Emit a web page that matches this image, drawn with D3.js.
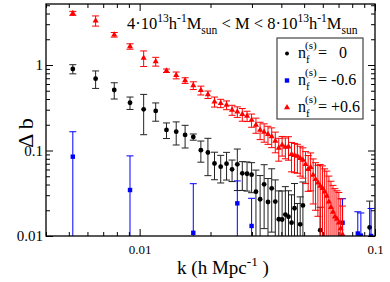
<!DOCTYPE html>
<html>
<head>
<meta charset="utf-8">
<script src="https://cdn.jsdelivr.net/npm/d3@7"></script>
<style>
body { margin: 0; background: #fff; }
svg text { font-family: "Liberation Serif", "Times New Roman", serif; fill: #000; white-space: pre; }
</style>
</head>
<body>
<svg id="chart" width="390" height="282"></svg>
<script>
// n_f = +0.6 (red triangles)
const redK = [0.0052, 0.0065, 0.0078, 0.0091, 0.0104, 0.0117, 0.0130, 0.0143, 0.0156, 0.0169,
    0.0182, 0.0195, 0.0208, 0.0221, 0.0234, 0.0247, 0.0260, 0.0273, 0.0286, 0.0299,
    0.0312, 0.0325, 0.0338, 0.0351, 0.0364, 0.0377, 0.0390, 0.0403, 0.0416, 0.0429,
    0.0442, 0.0455, 0.0468, 0.0481, 0.0494, 0.0507, 0.0520, 0.0533, 0.0546, 0.0559,
    0.0572, 0.0585, 0.0598, 0.0611, 0.0624, 0.0637, 0.0650, 0.0663, 0.0676, 0.0689,
    0.0702, 0.0715, 0.0728];
const redVals = [4.02, 3.30, 2.26, 1.65, 1.21, 1.10, 0.857, 0.758, 0.659, 0.576,
    0.506, 0.451, 0.372, 0.357, 0.340, 0.298, 0.284, 0.265, 0.253, 0.227,
    0.199, 0.174, 0.165, 0.155, 0.146, 0.129, 0.107, 0.116, 0.110, 0.111,
    0.0903, 0.088, 0.0862, 0.0811, 0.0775, 0.069, 0.0603, 0.0637, 0.0517, 0.046,
    0.042, 0.0384, 0.0361, 0.033, 0.0294, 0.0252, 0.0217, 0.0191, 0.0168, 0.0158,
    0.0143, 0.0122, 0.0104];
const redErr = [0.22, 0.45, 0.14, 0.12, 0.25, 0.13, 0.04, 0.07, 0.05, 0.06,
    0.06, 0.045, 0.05, 0.04, 0.04, 0.04, 0.04, 0.045, 0.035, 0.04,
    0.04, 0.04, 0.04, 0.037, 0.038, 0.035, 0.032, 0.03, 0.03, 0.034,
    0.034, 0.033, 0.032, 0.031, 0.03, 0.028, 0.027, 0.03, 0.028, 0.026,
    0.025, 0.03, 0.03, 0.028, 0.028, 0.025, 0.022, 0.02, 0.019, 0.018,
    0.018, 0.015, 0.012];

// n_f = 0 (black circles)
const blackK = [0.0052, 0.0065, 0.0078, 0.0091, 0.0104, 0.0117, 0.0130, 0.0143, 0.0156, 0.0169,
    0.0182, 0.0195, 0.0208, 0.0221, 0.0234, 0.0247, 0.0260, 0.0273, 0.0286, 0.0299,
    0.0312, 0.0325, 0.0338, 0.0351, 0.0364, 0.0377, 0.0390, 0.0403, 0.0416, 0.0429,
    0.0442, 0.0455, 0.0468, 0.0481, 0.0494, 0.0585, 0.0949];
const blackVals = [0.898, 0.692, 0.510, 0.362, 0.303, 0.290, 0.174, 0.166, 0.152, 0.144,
    0.101, 0.0948, 0.0705, 0.0647, 0.0701, 0.0603, 0.069, 0.0541, 0.0535, 0.0521,
    0.033, 0.0269, 0.0402, 0.025, 0.0361, 0.0253, 0.0157, 0.0156, 0.0178, 0.0168,
    0.0143, 0.0211, 0.008, 0.0137, 0.0228, 0.0117, 0.0126];
const blackErr = [0.11, 0.16, 0.11, 0.06, 0.15, 0.07, 0.036, 0.05, 0.045, 0.012,
    0.028, 0.044, 0.025, 0.023, 0.025, 0.017, 0.035, 0.02, 0.02, 0.02,
    0.026, 0.024, 0.028, 0.022, 0.025, 0.02, 0.018, 0.018, 0.02, 0.017,
    0.016, 0.02, 0.016, 0.015, 0.02, 0.01, 0.013];

// n_f = -0.6 (blue squares)
const blueK = [0.0052, 0.0091, 0.0169, 0.0260, 0.0299, 0.0728, 0.0845, 0.0871, 0.0962];
const blueVals = [0.0847, 0.0345, 0.0109, 0.0241, 0.0131, 0.0143, 0.0107, 0.0101, 0.0100];
const blueErr = [0.081, 0.052, 0.030, 0.020, 0.0145, 0.013, 0.0085, 0.0085, 0.011];

const xMajorTicks = [0.01, 0.1];
const xTickLabels = ["0.01", "0.1"];
const yMajorTicks = [0.01, 0.1, 1];
const yTickLabels = ["0.01", "0.1", "1"];
const legendLabels = ["=   0", "= -0.6", "= +0.6"];

const svg = d3.select("#chart");
const plotLeft = 46, plotRight = 375, plotTop = 4, plotBottom = 236;

const x = d3.scaleLog().domain([0.004, 0.1]).range([plotLeft, plotRight]);
const y = d3.scaleLog().domain([0.01, 5.17]).range([plotBottom, plotTop]);

svg.append("clipPath").attr("id", "plot-clip")
    .append("rect")
    .attr("x", plotLeft).attr("y", plotTop)
    .attr("width", plotRight - plotLeft).attr("height", plotBottom - plotTop);

const series = [
    {k: blackK, v: blackVals, e: blackErr, color: "#000", bar: "#222", shape: "circle"},
    {k: blueK, v: blueVals, e: blueErr, color: "#0000ff", bar: "#0000ff", shape: "square"},
    {k: redK, v: redVals, e: redErr, color: "#ff0000", bar: "#ff0000", shape: "triangle"}
];

const plot = svg.append("g").attr("clip-path", "url(#plot-clip)");

function marker(sel, shape, color) {
    if (shape === "circle") {
        sel.append("circle").attr("r", 2.4).attr("fill", color);
    } else if (shape === "square") {
        sel.append("rect").attr("x", -2.2).attr("y", -2.2)
            .attr("width", 4.4).attr("height", 4.4).attr("fill", color);
    } else {
        sel.append("path").attr("d", d3.symbol(d3.symbolTriangle, 16)()).attr("fill", color);
    }
}

series.forEach(s => {
    const pts = s.k.map((k, i) => ({k: k, v: s.v[i], e: s.e[i]}));
    const g = plot.append("g");
    const cap = 3.5;

    const bars = g.selectAll("g.bar")
        .data(pts)
        .join("g")
        .attr("class", "bar")
        .attr("stroke", s.bar)
        .attr("stroke-width", 1)
        .attr("fill", "none");

    bars.append("line")
        .attr("x1", d => x(d.k)).attr("x2", d => x(d.k))
        .attr("y1", d => y(d.v + d.e))
        .attr("y2", d => y(Math.max(d.v - d.e, 1e-4)));
    bars.append("line")
        .attr("x1", d => x(d.k) - cap).attr("x2", d => x(d.k) + cap)
        .attr("y1", d => y(d.v + d.e)).attr("y2", d => y(d.v + d.e));
    bars.append("line")
        .attr("x1", d => x(d.k) - cap).attr("x2", d => x(d.k) + cap)
        .attr("y1", d => y(Math.max(d.v - d.e, 1e-4)))
        .attr("y2", d => y(Math.max(d.v - d.e, 1e-4)));

    g.selectAll("g.pt")
        .data(pts)
        .join("g")
        .attr("class", "pt")
        .attr("transform", d => `translate(${x(d.k)},${y(d.v)})`)
        .each(function () { marker(d3.select(this), s.shape, s.color); });
});

// axes, ticks pointing inward on all four sides
const xMinor = x.ticks().filter(t => !xMajorTicks.some(m => Math.abs(m - t) < 1e-9));
const yMinor = y.ticks().filter(t => !yMajorTicks.some(m => Math.abs(m - t) < 1e-9));

function styleAxis(g) {
    g.select(".domain").remove();
    g.selectAll("line").attr("stroke", "#000").attr("stroke-width", 1);
}

svg.append("g").attr("transform", `translate(0,${plotBottom})`)
    .call(d3.axisBottom(x).tickValues(xMajorTicks).tickSize(-7).tickPadding(9)
        .tickFormat((d, i) => xTickLabels[i]))
    .call(styleAxis)
    .selectAll("text").attr("font-size", 13).attr("font-family", "Liberation Serif");
svg.append("g").attr("transform", `translate(0,${plotBottom})`)
    .call(d3.axisBottom(x).tickValues(xMinor).tickSize(-4).tickFormat(""))
    .call(styleAxis);
svg.append("g").attr("transform", `translate(0,${plotTop})`)
    .call(d3.axisTop(x).tickValues(xMajorTicks).tickSize(-7).tickFormat(""))
    .call(styleAxis);
svg.append("g").attr("transform", `translate(0,${plotTop})`)
    .call(d3.axisTop(x).tickValues(xMinor).tickSize(-4).tickFormat(""))
    .call(styleAxis);

svg.append("g").attr("transform", `translate(${plotLeft},0)`)
    .call(d3.axisLeft(y).tickValues(yMajorTicks).tickSize(-7).tickPadding(3)
        .tickFormat(d => yTickLabels[yMajorTicks.indexOf(d)]))
    .call(styleAxis)
    .selectAll("text").attr("font-size", 15).attr("font-family", "Liberation Serif");
svg.append("g").attr("transform", `translate(${plotLeft},0)`)
    .call(d3.axisLeft(y).tickValues(yMinor).tickSize(-4).tickFormat(""))
    .call(styleAxis);
svg.append("g").attr("transform", `translate(${plotRight},0)`)
    .call(d3.axisRight(y).tickValues(yMajorTicks).tickSize(-7).tickFormat(""))
    .call(styleAxis);
svg.append("g").attr("transform", `translate(${plotRight},0)`)
    .call(d3.axisRight(y).tickValues(yMinor).tickSize(-4).tickFormat(""))
    .call(styleAxis);

svg.append("rect")
    .attr("x", plotLeft).attr("y", plotTop)
    .attr("width", plotRight - plotLeft).attr("height", plotBottom - plotTop)
    .attr("fill", "none").attr("stroke", "#000").attr("stroke-width", 1.3);

// text with super/subscripts
function rich(textSel, parts, size) {
    let shift = 0;
    parts.forEach(p => {
        const kind = p[1];
        const target = kind === "sup" ? -0.42 * size : kind === "sub" ? 0.32 * size : 0;
        textSel.append("tspan")
            .attr("dy", target - shift)
            .attr("font-size", kind ? size * 0.7 : size)
            .text(p[0]);
        shift = target;
    });
}

const title = svg.append("text").attr("x", 127).attr("y", 29).attr("font-size", 16.5);
rich(title, [["4·10"], ["13", "sup"], ["h"], ["-1", "sup"], ["M"], ["sun", "sub"],
    [" < M < 8·10"], ["13", "sup"], ["h"], ["-1", "sup"], ["M"], ["sun", "sub"]], 16.5);

const xLabel = svg.append("text").attr("x", 223).attr("y", 274)
    .attr("text-anchor", "middle").attr("font-size", 19);
rich(xLabel, [["k (h Mpc"], ["-1", "sup"], [" )"]], 19);

svg.append("text")
    .attr("transform", "translate(33,133) rotate(-90)")
    .attr("text-anchor", "middle")
    .attr("font-size", 22)
    .text("Δ b");

// legend
const legend = svg.append("g");
legend.append("rect")
    .attr("x", 277).attr("y", 38).attr("width", 86).attr("height", 81)
    .attr("fill", "#fff").attr("stroke", "#444").attr("stroke-width", 1.2);

legendLabels.forEach((lab, i) => {
    const cy = 53.5 + i * 27;
    const row = legend.append("g");
    const m = row.append("g").attr("transform", `translate(287,${cy})`);
    marker(m, series[i].shape, series[i].color);
    row.select("circle").attr("r", 2);
    row.append("text").attr("x", 298).attr("y", cy + 4).attr("font-size", 16).text("n");
    row.append("text").attr("x", 305).attr("y", cy - 5).attr("font-size", 11).text("(s)");
    row.append("text").attr("x", 306).attr("y", cy + 9).attr("font-size", 11).text("f");
    row.append("text").attr("x", 318).attr("y", cy + 4).attr("font-size", 16).text(lab);
});
</script>
</body>
</html>
